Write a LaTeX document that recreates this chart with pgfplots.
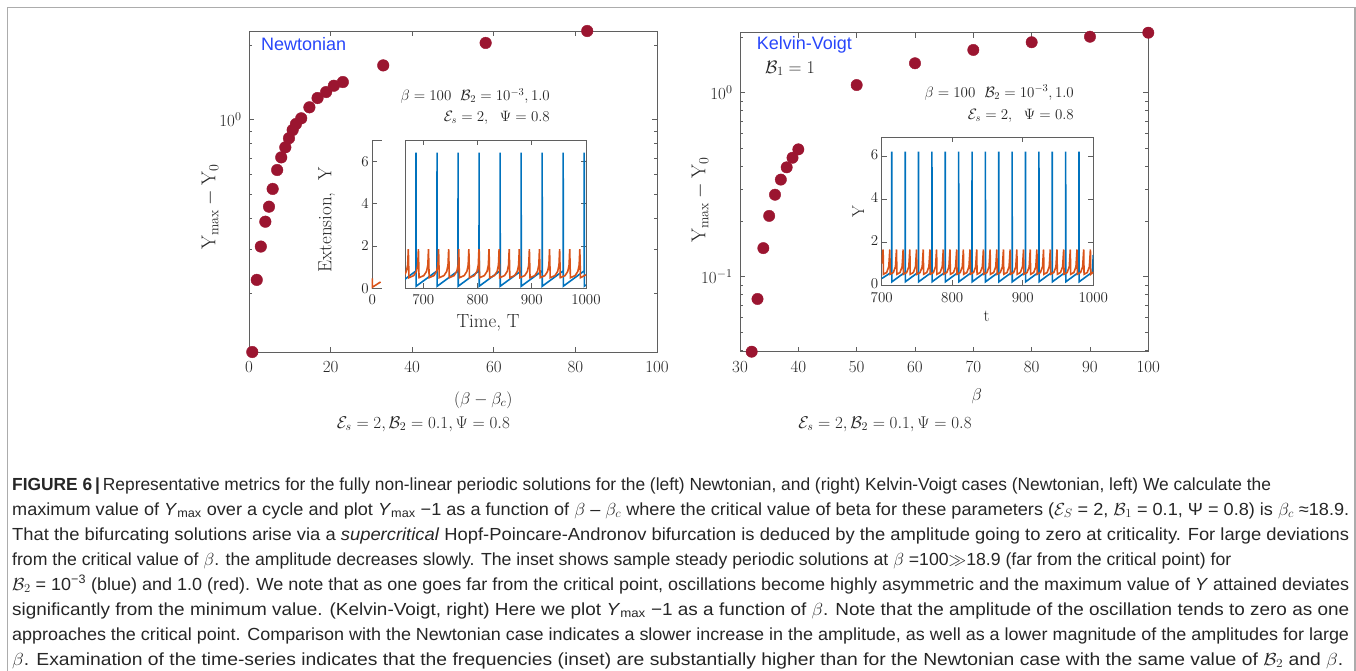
\RequirePackage{fix-cm}
\documentclass[border=0pt]{standalone}
\usepackage{pgfplots}
\pgfplotsset{compat=1.18}
\usepackage{fontspec}
\usepackage{graphicx}
\newfontfamily\capfont{Liberation Sans}
\definecolor{mk}{RGB}{155,21,48}
\definecolor{mblue}{RGB}{0,114,189}
\definecolor{mred}{RGB}{217,83,25}
\definecolor{lblue}{RGB}{40,70,250}
\definecolor{axc}{RGB}{95,95,95}
\newcommand{\fs}[1]{\fontsize{#1}{#1}\selectfont}
\pgfplotsset{
  common/.style={scale only axis, anchor=south west,
    axis line style={draw=axc, line width=1pt},
    tick style={draw=axc, line width=0.8pt},
    tick align=inside,
    major tick length=5pt, minor tick length=3pt,
    tick label style={text=black!85, /pgf/number format/1000 sep={}},
  },
}
\newcommand{\capline}[3]{\node[anchor=base west, inner sep=0pt, text=black!85, font=\capfont\fs{17.5}] at (12pt,-#1pt) {\resizebox{#2pt}{\height}{#3}};}
\begin{document}
\begin{tikzpicture}
\path[use as bounding box] (0pt,0pt) rectangle (1356pt,-671pt);
\draw[gray!65, line width=1.2pt] (7.3pt,-672pt) -- (7.3pt,-7.3pt) -- (1355pt,-7.3pt) -- (1355pt,-672pt);

% ---------- left main axis ----------
\begin{axis}[common, at={(249pt,-352pt)}, width=408pt, height=321pt,
  xmin=0, xmax=100, ymode=log, ymin=0.1157, ymax=2.279,
  xtick={0,20,40,60,80,100},
  ytick={1}, yticklabels={$10^0$},
  minor ytick={0.2,0.3,0.4,0.5,0.6,0.7,0.8,0.9,2},
  xticklabel style={font=\fs{17}, yshift=-6.5pt},
  yticklabel style={font=\fs{17}, xshift=-4pt},
  clip=false]
\addplot[only marks, mark=*, mark size=5.8pt, color=mk] coordinates {
(0.8,0.1157)(1.9,0.226)(2.9,0.308)(4.0,0.388)(4.9,0.446)(5.8,0.526)(6.9,0.627)
(7.9,0.705)(8.9,0.774)(9.8,0.842)(10.7,0.909)(11.5,0.961)(12.8,1.013)(14.8,1.122)
(16.8,1.223)(18.9,1.293)(20.8,1.371)(23.0,1.419)(32.9,1.656)(58.0,2.04)(82.9,2.279)};
\end{axis}

% ---------- left inset: short leading piece ----------
\begin{axis}[common, at={(372.3pt,-288.3pt)}, width=9.4pt, height=148.3pt,
  xmin=0, xmax=17, ymin=0, ymax=7,
  axis line style={draw=none},
  xtick={0}, xtick pos=bottom, ytick={0,2,4,6}, ytick pos=left,
  xticklabel style={font=\fs{15}, yshift=-3pt},
  yticklabel style={font=\fs{15}},
  clip=false]
\draw[axc, line width=1pt] (rel axis cs:1,1) -- (rel axis cs:0,1) -- (rel axis cs:0,0) -- (rel axis cs:1,0);
\addplot[mred, line width=1.6pt] coordinates {(0,0.47)(0,0.05)(15,0.3)};
\end{axis}

% ---------- left inset: main piece ----------
\begin{axis}[common, at={(405pt,-288.3pt)}, width=181pt, height=148.3pt,
  xmin=666.3, xmax=1000, ymin=0, ymax=7,
  xtick={700,800,900,1000}, ytick={0,2,4,6}, ytick pos=right, yticklabels={,,,},
  xticklabel style={font=\fs{15}, yshift=-3pt}]
\addplot[mblue, line width=1.6pt] coordinates {
(666.3,0.43)(686.5,0.82)(686.65,6.4)(686.9,0.1)(725.25,0.82)(725.4,6.4)(725.65,0.1)
(764.0,0.82)(764.15,6.4)(764.4,0.1)(802.75,0.82)(802.9,6.4)(803.15,0.1)
(841.5,0.82)(841.65,6.4)(841.9,0.1)(880.25,0.82)(880.4,6.4)(880.65,0.1)
(919.0,0.82)(919.15,6.4)(919.4,0.1)(957.75,0.82)(957.9,6.4)(958.15,0.1)
(996.5,0.82)(996.65,6.4)(996.9,0.1)(1000,0.16)};
\addplot[mred, line width=1.6pt] coordinates {
(666.3,0.66)(668.8,0.8)(671.2,1.1)(672.4,1.85)(673.6,0.5)
(682.4,0.6)(687.4,0.8)(689.8,1.1)(691.0,1.85)(692.2,0.5)
(701.0,0.6)(706.0,0.8)(708.4,1.1)(709.6,1.85)(710.8,0.5)
(719.6,0.6)(724.6,0.8)(727.0,1.1)(728.2,1.85)(729.4,0.5)
(738.2,0.6)(743.2,0.8)(745.6,1.1)(746.8,1.85)(748.0,0.5)
(756.8,0.6)(761.8,0.8)(764.2,1.1)(765.4,1.85)(766.6,0.5)
(775.4,0.6)(780.4,0.8)(782.8,1.1)(784.0,1.85)(785.2,0.5)
(794.0,0.6)(799.0,0.8)(801.4,1.1)(802.6,1.85)(803.8,0.5)
(812.6,0.6)(817.6,0.8)(820.0,1.1)(821.2,1.85)(822.4,0.5)
(831.2,0.6)(836.2,0.8)(838.6,1.1)(839.8,1.85)(841.0,0.5)
(849.8,0.6)(854.8,0.8)(857.2,1.1)(858.4,1.85)(859.6,0.5)
(868.4,0.6)(873.4,0.8)(875.8,1.1)(877.0,1.85)(878.2,0.5)
(887.0,0.6)(892.0,0.8)(894.4,1.1)(895.6,1.85)(896.8,0.5)
(905.6,0.6)(910.6,0.8)(913.0,1.1)(914.2,1.85)(915.4,0.5)
(924.2,0.6)(929.2,0.8)(931.6,1.1)(932.8,1.85)(934.0,0.5)
(942.8,0.6)(947.8,0.8)(950.2,1.1)(951.4,1.85)(952.6,0.5)
(961.4,0.6)(966.4,0.8)(968.8,1.1)(970.0,1.85)(971.2,0.5)
(980.0,0.6)(985.0,0.8)(987.4,1.1)(988.6,1.85)(989.8,0.5)
(1000,0.64)};
\end{axis}

% ---------- right main axis ----------
\begin{axis}[common, at={(740pt,-351.7pt)}, width=408.3pt, height=319pt,
  xmin=30, xmax=100, ymode=log, ymin=0.03913, ymax=2.118,
  xtick={30,40,50,60,70,80,90,100},
  ytick={0.1,1}, yticklabels={$10^{-1}$,$10^0$},
  minor ytick={0.04,0.05,0.06,0.07,0.08,0.09,0.2,0.3,0.4,0.5,0.6,0.7,0.8,0.9,2},
  xticklabel style={font=\fs{17}, yshift=-6.5pt},
  yticklabel style={font=\fs{17}, xshift=-4pt},
  clip=false]
\addplot[only marks, mark=*, mark size=5.7pt, color=mk] coordinates {
(32,0.03913)(33,0.0757)(34,0.143)(35,0.214)(36,0.279)(37,0.337)(38,0.393)(39,0.443)
(40,0.492)(50,1.10)(60,1.445)(70,1.707)(80,1.88)(90,2.014)(100,2.118)};
\end{axis}

% ---------- right inset ----------
\begin{axis}[common, at={(881.7pt,-285pt)}, width=211.6pt, height=147.7pt,
  xmin=700, xmax=1000, ymin=0, ymax=6.87,
  xtick={700,800,900,1000}, ytick={0,2,4,6},
  xticklabel style={font=\fs{15}, yshift=-4.5pt},
  yticklabel style={font=\fs{15}, yshift=1pt}]
\addplot[mblue, line width=1.6pt] coordinates {
(700,0.3)
(714.2,0.6)(714.3,6.2)(714.5,0.15)(733.2,0.6)(733.3,6.2)(733.5,0.15)
(752.1,0.6)(752.2,6.2)(752.4,0.15)(771.1,0.6)(771.2,6.2)(771.4,0.15)
(790.0,0.6)(790.1,6.2)(790.3,0.15)(809.0,0.6)(809.1,6.2)(809.3,0.15)
(828.0,0.6)(828.1,6.2)(828.3,0.15)(846.9,0.6)(847.0,6.2)(847.2,0.15)
(865.9,0.6)(866.0,6.2)(866.2,0.15)(884.8,0.6)(884.9,6.2)(885.1,0.15)
(903.8,0.6)(903.9,6.2)(904.1,0.15)(922.8,0.6)(922.9,6.2)(923.1,0.15)
(941.7,0.6)(941.8,6.2)(942.0,0.15)(960.7,0.6)(960.8,6.2)(961.0,0.15)
(979.6,0.6)(979.7,6.2)(979.9,0.15)(998.6,0.6)(1000,1.4)};
\addplot[mred, line width=1.6pt] coordinates {
(700,1.0)(702.0,1.65)(702.5,0.5)
(707.0,0.58)(710.0,0.85)(711.5,1.65)(712.0,0.5)
(716.5,0.58)(719.5,0.85)(721.0,1.65)(721.5,0.5)
(725.9,0.58)(728.9,0.85)(730.4,1.65)(730.9,0.5)
(735.4,0.58)(738.4,0.85)(739.9,1.65)(740.4,0.5)
(744.9,0.58)(747.9,0.85)(749.4,1.65)(749.9,0.5)
(754.4,0.58)(757.4,0.85)(758.9,1.65)(759.4,0.5)
(763.9,0.58)(766.9,0.85)(768.4,1.65)(768.9,0.5)
(773.3,0.58)(776.3,0.85)(777.8,1.65)(778.3,0.5)
(782.8,0.58)(785.8,0.85)(787.3,1.65)(787.8,0.5)
(792.3,0.58)(795.3,0.85)(796.8,1.65)(797.3,0.5)
(801.8,0.58)(804.8,0.85)(806.3,1.65)(806.8,0.5)
(811.3,0.58)(814.3,0.85)(815.8,1.65)(816.3,0.5)
(820.7,0.58)(823.7,0.85)(825.2,1.65)(825.7,0.5)
(830.2,0.58)(833.2,0.85)(834.7,1.65)(835.2,0.5)
(839.7,0.58)(842.7,0.85)(844.2,1.65)(844.7,0.5)
(849.2,0.58)(852.2,0.85)(853.7,1.65)(854.2,0.5)
(858.7,0.58)(861.7,0.85)(863.2,1.65)(863.7,0.5)
(868.1,0.58)(871.1,0.85)(872.6,1.65)(873.1,0.5)
(877.6,0.58)(880.6,0.85)(882.1,1.65)(882.6,0.5)
(887.1,0.58)(890.1,0.85)(891.6,1.65)(892.1,0.5)
(896.6,0.58)(899.6,0.85)(901.1,1.65)(901.6,0.5)
(906.1,0.58)(909.1,0.85)(910.6,1.65)(911.1,0.5)
(915.5,0.58)(918.5,0.85)(920.0,1.65)(920.5,0.5)
(925.0,0.58)(928.0,0.85)(929.5,1.65)(930.0,0.5)
(934.5,0.58)(937.5,0.85)(939.0,1.65)(939.5,0.5)
(944.0,0.58)(947.0,0.85)(948.5,1.65)(949.0,0.5)
(953.5,0.58)(956.5,0.85)(958.0,1.65)(958.5,0.5)
(962.9,0.58)(965.9,0.85)(967.4,1.65)(967.9,0.5)
(972.4,0.58)(975.4,0.85)(976.9,1.65)(977.4,0.5)
(981.9,0.58)(984.9,0.85)(986.4,1.65)(986.9,0.5)
(991.4,0.58)(994.4,0.85)(995.9,1.65)(996.4,0.5)
(1000,0.6)};
\end{axis}

% ---------- left labels ----------
\node[font=\capfont\fs{18}, text=lblue, anchor=west, inner sep=0pt] at (261pt,-44.3pt) {Newtonian};
\node[rotate=90, font=\fs{20}, text=black!85] at (210pt,-206.7pt) {$\mathrm{Y}_{\max}-\mathrm{Y}_0$};
\node[font=\fs{17}, text=black!85] at (483.3pt,-400pt) {$(\beta-\beta_c)$};
\node[font=\fs{17}, text=black!85] at (423.3pt,-424pt) {$\mathcal{E}_s=2,\mathcal{B}_2=0.1,\Psi=0.8$};
\node[font=\fs{15}, text=black!85, anchor=east, inner sep=0pt] at (550pt,-96pt) {$\beta=100\ \ \mathcal{B}_2=10^{-3},1.0$};
\node[font=\fs{15}, text=black!85, anchor=east, inner sep=0pt] at (550pt,-117.7pt) {$\mathcal{E}_s=2,\ \ \Psi=0.8$};
\node[rotate=90, font=\fs{19}, text=black!85] at (326.7pt,-220pt) {Extension,\ \ Y};
\node[font=\fs{19}, text=black!85] at (488pt,-323pt) {Time, T};

% ---------- right labels ----------
\node[font=\capfont\fs{18}, text=lblue, anchor=west, inner sep=0pt] at (756.7pt,-45pt) {Kelvin-Voigt};
\node[font=\fs{18}, text=black!85, anchor=west, inner sep=0pt] at (765pt,-68.3pt) {$\mathcal{B}_1=1$};
\node[rotate=90, font=\fs{20}, text=black!85] at (700pt,-200pt) {$\mathrm{Y}_{\max}-\mathrm{Y}_0$};
\node[font=\fs{17}, text=black!85] at (976.7pt,-396.7pt) {$\beta$};
\node[font=\fs{17}, text=black!85] at (885pt,-424pt) {$\mathcal{E}_s=2,\mathcal{B}_2=0.1,\Psi=0.8$};
\node[font=\fs{15}, text=black!85, anchor=east, inner sep=0pt] at (1074pt,-92.7pt) {$\beta=100\ \ \mathcal{B}_2=10^{-3},1.0$};
\node[font=\fs{15}, text=black!85, anchor=east, inner sep=0pt] at (1074pt,-115.7pt) {$\mathcal{E}_s=2,\ \ \Psi=0.8$};
\node[rotate=90, font=\fs{17}, text=black!85] at (858.3pt,-211.7pt) {Y};
\node[font=\fs{17}, text=black!85] at (986.7pt,-316.7pt) {t};

% ---------- caption ----------
\capline{490}{1259}{{\bfseries FIGURE 6\,|\,}Representative metrics for the fully non-linear periodic solutions for the (left) Newtonian, and (right) Kelvin-Voigt cases (Newtonian, left) We calculate the}
\capline{515}{1337}{maximum value of \textit{Y}\textsubscript{max} over a cycle and plot \textit{Y}\textsubscript{max} −1 as a function of $\beta$ – $\beta_c$ where the critical value of beta for these parameters ($\mathcal{E}_S$ = 2, $\mathcal{B}_1$ = 0.1, Ψ = 0.8) is $\beta_c$ ≈18.9.}
\capline{540}{1337}{That the bifurcating solutions arise via a \textit{supercritical} Hopf-Poincare-Andronov bifurcation is deduced by the amplitude going to zero at criticality. For large deviations}
\capline{565}{1219}{from the critical value of $\beta$. the amplitude decreases slowly. The inset shows sample steady periodic solutions at $\beta$ =100$\gg$18.9 (far from the critical point) for}
\capline{590}{1337}{$\mathcal{B}_2$ = 10\textsuperscript{−3} (blue) and 1.0 (red). We note that as one goes far from the critical point, oscillations become highly asymmetric and the maximum value of \textit{Y} attained deviates}
\capline{615}{1337}{significantly from the minimum value. (Kelvin-Voigt, right) Here we plot \textit{Y}\textsubscript{max} −1 as a function of $\beta$. Note that the amplitude of the oscillation tends to zero as one}
\capline{640}{1337}{approaches the critical point. Comparison with the Newtonian case indicates a slower increase in the amplitude, as well as a lower magnitude of the amplitudes for large}
\capline{665}{1331}{$\beta$. Examination of the time-series indicates that the frequencies (inset) are substantially higher than for the Newtonian case with the same value of $\mathcal{B}_2$ and $\beta$.}
\end{tikzpicture}
\end{document}
